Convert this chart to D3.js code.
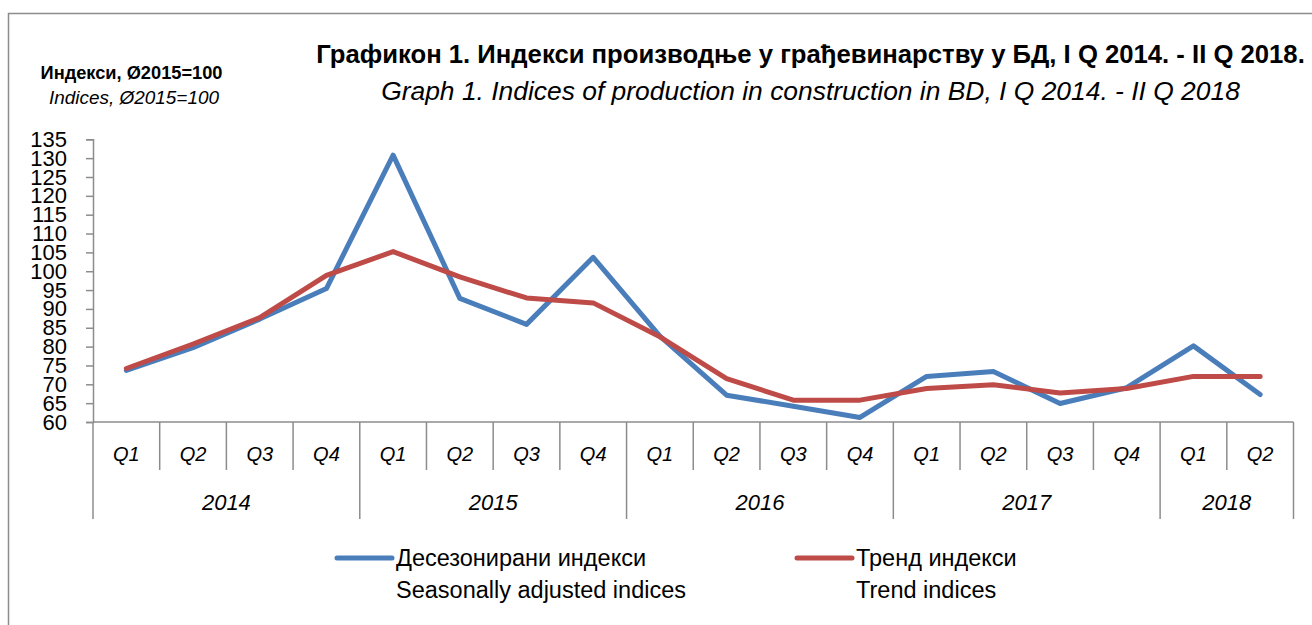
<!DOCTYPE html>
<html>
<head>
<meta charset="utf-8">
<script src="https://cdn.jsdelivr.net/npm/d3@7/dist/d3.min.js"></script>
<style>
  body { margin: 0; background: #fff; }
  svg { display: block; font-family: "Liberation Sans", Arial, sans-serif; }
</style>
</head>
<body>
<div id="chart"></div>
<script>
// quarters and years on the two-level x axis
const years = ["2014", "2015", "2016", "2017", "2018"];
const quartersPerYear = [4, 4, 4, 4, 2];
const quarterNames = ["Q1", "Q2", "Q3", "Q4"];

// seasonally adjusted indices (blue)
const seasonal = [73.7, 79.7, 87.3, 95.4, 130.8, 92.8, 85.9, 103.7,
                  82.8, 67.1, 64.2, 61.2, 72.1, 73.4, 64.9, 69.1, 80.2, 67.3];
// trend indices (red)
const trend = [74.2, 80.7, 87.7, 98.9, 105.2, 98.5, 92.9, 91.6,
               82.6, 71.5, 65.8, 65.8, 68.9, 69.9, 67.7, 68.9, 72.1, 72.1];

const yTicks = d3.range(60, 136, 5);

const seriesNames = [
    {ru: "Десезонирани индекси", en: "Seasonally adjusted indices", color: "#4a7ebb", values: seasonal},
    {ru: "Тренд индекси", en: "Trend indices", color: "#be4b48", values: trend}
];

// build category keys like 2014-Q1
let cats = [];
years.forEach((y, i) => {
    for (let q = 0; q < quartersPerYear[i]; q++) cats.push({year: y, q: quarterNames[q], key: y + "-" + quarterNames[q]});
});

const W = 1312, H = 625;
const svg = d3.select("#chart").append("svg")
    .attr("width", W)
    .attr("height", H);

// outer frame
svg.append("rect")
    .attr("x", 8.5).attr("y", 13.5)
    .attr("width", 1400).attr("height", 700)
    .attr("fill", "#fff")
    .attr("stroke", "#8c8c8c")
    .attr("stroke-width", 1.5);

const x = d3.scaleBand()
    .domain(cats.map(d => d.key))
    .range([93, 1293.5])
    .padding(0);

const y = d3.scaleLinear()
    .domain([60, 135])
    .range([422, 139.3]);

// fit a text element to a given width by scaling the font size
function fitWidth(sel, w) {
    let len = sel.node().getComputedTextLength();
    let fs = parseFloat(sel.attr("font-size"));
    sel.attr("font-size", fs * w / len);
}

// titles
let t1 = svg.append("text")
    .attr("x", 810.5).attr("y", 63)
    .attr("text-anchor", "middle")
    .attr("font-weight", "bold")
    .attr("font-size", 28)
    .text("Графикон 1. Индекси производње у грађевинарству у БД, I Q 2014. - II Q 2018.");
fitWidth(t1, 989);

let t2 = svg.append("text")
    .attr("x", 810.5).attr("y", 100)
    .attr("text-anchor", "middle")
    .attr("font-style", "italic")
    .attr("font-size", 25)
    .text("Graph 1. Indices of production in construction in BD, I Q 2014. - II Q 2018");
fitWidth(t2, 859);

let l1 = svg.append("text")
    .attr("x", 131.5).attr("y", 79)
    .attr("text-anchor", "middle")
    .attr("font-weight", "bold")
    .attr("font-size", 17)
    .text("Индекси, Ø2015=100");
fitWidth(l1, 182);

let l2 = svg.append("text")
    .attr("x", 134).attr("y", 104)
    .attr("text-anchor", "middle")
    .attr("font-style", "italic")
    .attr("font-size", 17)
    .text("Indices, Ø2015=100");
fitWidth(l2, 170);

// y axis
const yAxis = d3.axisLeft(y)
    .tickValues(yTicks)
    .tickSize(7)
    .tickPadding(19);

let gy = svg.append("g")
    .attr("class", "y-axis")
    .attr("transform", "translate(93,0)")
    .call(yAxis);
gy.select(".domain").attr("stroke", "#8c8c8c").attr("stroke-width", 1.5);
gy.selectAll(".tick line").attr("stroke", "#8c8c8c").attr("stroke-width", 1.5);
gy.selectAll(".tick text")
    .attr("font-size", 22)
    .attr("font-family", "'Liberation Sans', Arial, sans-serif")
    .attr("fill", "#000");

// x axis line
svg.append("line")
    .attr("x1", 93).attr("x2", x.range()[1])
    .attr("y1", 422).attr("y2", 422)
    .attr("stroke", "#8c8c8c").attr("stroke-width", 1.5);

// separators between categories: long ones at year boundaries
let seps = cats.map(d => ({pos: x(d.key), long: d.q === "Q1"}));
seps.push({pos: x.range()[1], long: true});

svg.append("g").selectAll("line")
    .data(seps)
    .enter().append("line")
    .attr("x1", d => d.pos).attr("x2", d => d.pos)
    .attr("y1", 422)
    .attr("y2", d => d.long ? 519 : 470)
    .attr("stroke", "#8c8c8c")
    .attr("stroke-width", 1.5);

// quarter labels
svg.append("g").selectAll("text")
    .data(cats)
    .enter().append("text")
    .attr("x", d => x(d.key) + x.bandwidth() / 2)
    .attr("y", 461)
    .attr("text-anchor", "middle")
    .attr("font-style", "italic")
    .attr("font-size", 20)
    .text(d => d.q);

// year labels, centred over their quarters
let yearSpans = years.map(yr => {
    let ks = cats.filter(c => c.year === yr).map(c => c.key);
    return {year: yr, x0: x(ks[0]), x1: x(ks[ks.length - 1]) + x.bandwidth()};
});
svg.append("g").selectAll("text")
    .data(yearSpans)
    .enter().append("text")
    .attr("x", d => (d.x0 + d.x1) / 2)
    .attr("y", 510)
    .attr("text-anchor", "middle")
    .attr("font-style", "italic")
    .attr("font-size", 22)
    .text(d => d.year);

// lines
const line = d3.line()
    .x((d, i) => x(cats[i].key) + x.bandwidth() / 2)
    .y(d => y(d));

svg.append("g").selectAll("path")
    .data(seriesNames)
    .enter().append("path")
    .attr("d", d => line(d.values))
    .attr("fill", "none")
    .attr("stroke", d => d.color)
    .attr("stroke-width", 5)
    .attr("stroke-linejoin", "round")
    .attr("stroke-linecap", "round");

// legend
const legendX = [337, 797];
let lg = svg.append("g").selectAll("g")
    .data(seriesNames)
    .enter().append("g")
    .attr("transform", (d, i) => "translate(" + legendX[i] + ",0)");

lg.append("line")
    .attr("x1", 0).attr("x2", 55)
    .attr("y1", 558).attr("y2", 558)
    .attr("stroke", d => d.color)
    .attr("stroke-width", 5)
    .attr("stroke-linecap", "round");

lg.append("text")
    .attr("x", 59).attr("y", 566)
    .attr("font-size", 23.5)
    .text(d => d.ru);

lg.append("text")
    .attr("x", 59).attr("y", 598)
    .attr("font-size", 23.5)
    .text(d => d.en);
</script>
</body>
</html>
